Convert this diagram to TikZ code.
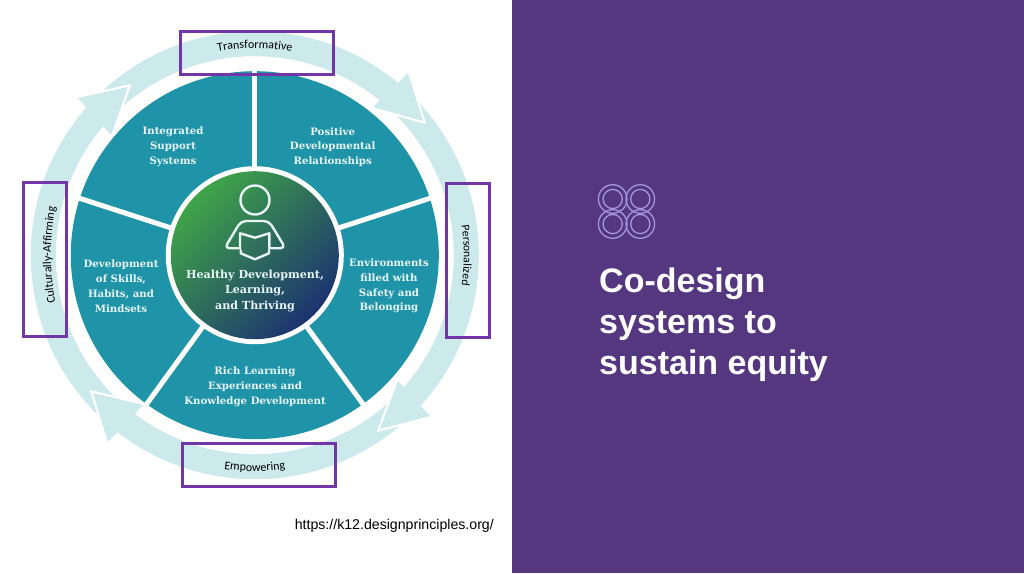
\documentclass[tikz,border=0pt]{standalone}
\usepackage{fontspec}
\usepackage{tikz}
\usetikzlibrary{decorations.text}
\setmainfont{Liberation Sans}
\newfontfamily\slabfont{DejaVu Serif}
\newfontfamily\ringfont{Carlito}
\definecolor{panelpurple}{HTML}{54377E}
\definecolor{markpurple}{HTML}{7236A8}
\definecolor{wheelteal}{HTML}{1F93A8}
\definecolor{bandblue}{HTML}{CCE9EB}
\definecolor{slabwhite}{HTML}{E8F5F6}
\definecolor{logolilac}{HTML}{A496E0}
\definecolor{coregreen}{HTML}{3FA548}
\definecolor{corenavy}{HTML}{1C3370}
\tikzset{
	x=1pt, y=1pt,
	wheeltext/.style={align=center, text=slabwhite, font=\slabfont\bfseries\fontsize{10.2}{14.8}\selectfont},
	markbox/.style={draw=markpurple, line width=3pt, minimum width=153.5pt, minimum height=43pt, inner sep=0pt},
	headtip/.style={draw=white, line width=4.5pt, line join=miter},
	ringlabel/.style={decorate, decoration={text along path, text align=center, reverse path=false}},
}
\begin{document}
\begin{tikzpicture}
	%%%%% PANEL %%%%%
	\useasboundingbox (0, 0) rectangle (1024, 573);
	\fill[white] (0, 0) rectangle (512, 573);
	\fill[panelpurple] (512, 0) rectangle (1024, 573);
	\coordinate (hub) at (254.8, 317.8);

	%%%%% RING %%%%%
	\draw[bandblue, line width=25pt] (hub) circle (211.5);
	\foreach \tipx/\tipy/\ax/\ay/\bx/\by in {128/486/78/475/111/438, 423/452/408/500/373/466, 380/144/430/157/398/192, 93/180/108/131/143/168}{
		\draw[headtip] (\ax, \ay) -- (\tipx, \tipy) -- (\bx, \by);
		\fill[bandblue] (\ax, \ay) -- (\tipx, \tipy) -- (\bx, \by) -- cycle;
	}

	%%%%% WHEEL %%%%%
	\fill[wheelteal] (hub) circle (184);
	\foreach \ang in {90, 18, -54, -126, 162}{
		\draw[white, line width=5pt] (hub) -- ([shift={(hub)}]\ang:186);
	}
	\fill[white] (hub) circle (89);
	\node (core) [circle, minimum size=168pt, inner sep=0pt, left color=coregreen, right color=corenavy, shading angle=45] at (hub) {};

	%%%%% READER %%%%%
	\begin{scope}[draw=slabwhite, line width=2.4pt, line join=round, line cap=round]
		\draw (255, 373) circle (14.5);
		\draw[rounded corners=5pt] (240, 324.7) -- (224.5, 324.7) -- (241, 352) -- (269, 352) -- (285.5, 324.7) -- (269.3, 324.7);
		\draw (240, 324.7) -- (240, 339.7) -- (255, 335.3) -- (269.3, 339.7) -- (269.3, 324.7);
		\draw (240.7, 323) -- (240.7, 319.7) -- (255, 313.7) -- (269, 319.7) -- (269, 323);
	\end{scope}

	%%%%% WHEEL TEXT %%%%%
	\node (integrated) [wheeltext] at (173, 426) {Integrated\\Support\\Systems};
	\node (positive) [wheeltext] at (332.7, 426) {Positive\\Developmental\\Relationships};
	\node (environments) [wheeltext] at (389, 287) {Environments\\filled with\\Safety and\\Belonging};
	\node (skills) [wheeltext] at (121, 287) {Development\\of Skills,\\Habits, and\\Mindsets};
	\node (rich) [wheeltext] at (255, 186) {Rich Learning\\Experiences and\\Knowledge Development};
	\node (thriving) [wheeltext, font=\slabfont\bfseries\fontsize{11.1}{15.6}\selectfont] at (255, 282) {Healthy Development,\\Learning,\\and Thriving};

	%%%%% RING TEXT %%%%%
	\path[ringlabel, decoration={text={|\ringfont\fontsize{12}{12}\selectfont|Transformative}}] ([shift={(hub)}]125:207) arc (125:55:207);
	\path[ringlabel, decoration={text={|\ringfont\fontsize{11.6}{12}\selectfont|Personalized}}] ([shift={(hub)}]35:209) arc (35:-35:209);
	\path[ringlabel, decoration={text={|\ringfont\fontsize{12}{12}\selectfont|Empowering}}] ([shift={(hub)}]235:216) arc (235:305:216);
	\path[ringlabel, decoration={text={|\ringfont\fontsize{12}{12}\selectfont|Culturally-Affirming}}] ([shift={(312, 318)}]205:261) arc (205:155:261);

	%%%%% MARK BOXES %%%%%
	\node (marktop) [markbox] at (257.2, 520) {};
	\node (markbottom) [markbox] at (259, 107.8) {};
	\node (markleft) [markbox, minimum width=43pt, minimum height=153.5pt] at (44.7, 313.5) {};
	\node (markright) [markbox, minimum width=43pt, minimum height=154pt] at (467.7, 312.2) {};

	%%%%% RIGHT SIDE %%%%%
	\foreach \cx/\cy in {612.7/374, 640.3/374, 612.7/349, 640.3/349}{
		\draw[logolilac, line width=1.3pt] (\cx, \cy) circle (14.3);
		\draw[logolilac, line width=1.3pt] (\cx, \cy) circle (9.6);
	}
	\node (headline) [anchor=north west, align=left, inner sep=0pt, text=white, font=\bfseries\fontsize{34}{41}\selectfont] at (599, 305) {Co-design\\systems to\\sustain equity};
	\node (source) [anchor=base east, inner sep=0pt, text=black, font=\fontsize{14.15}{16}\selectfont] at (494, 44) {https://k12.designprinciples.org/};
\end{tikzpicture}
\end{document}
